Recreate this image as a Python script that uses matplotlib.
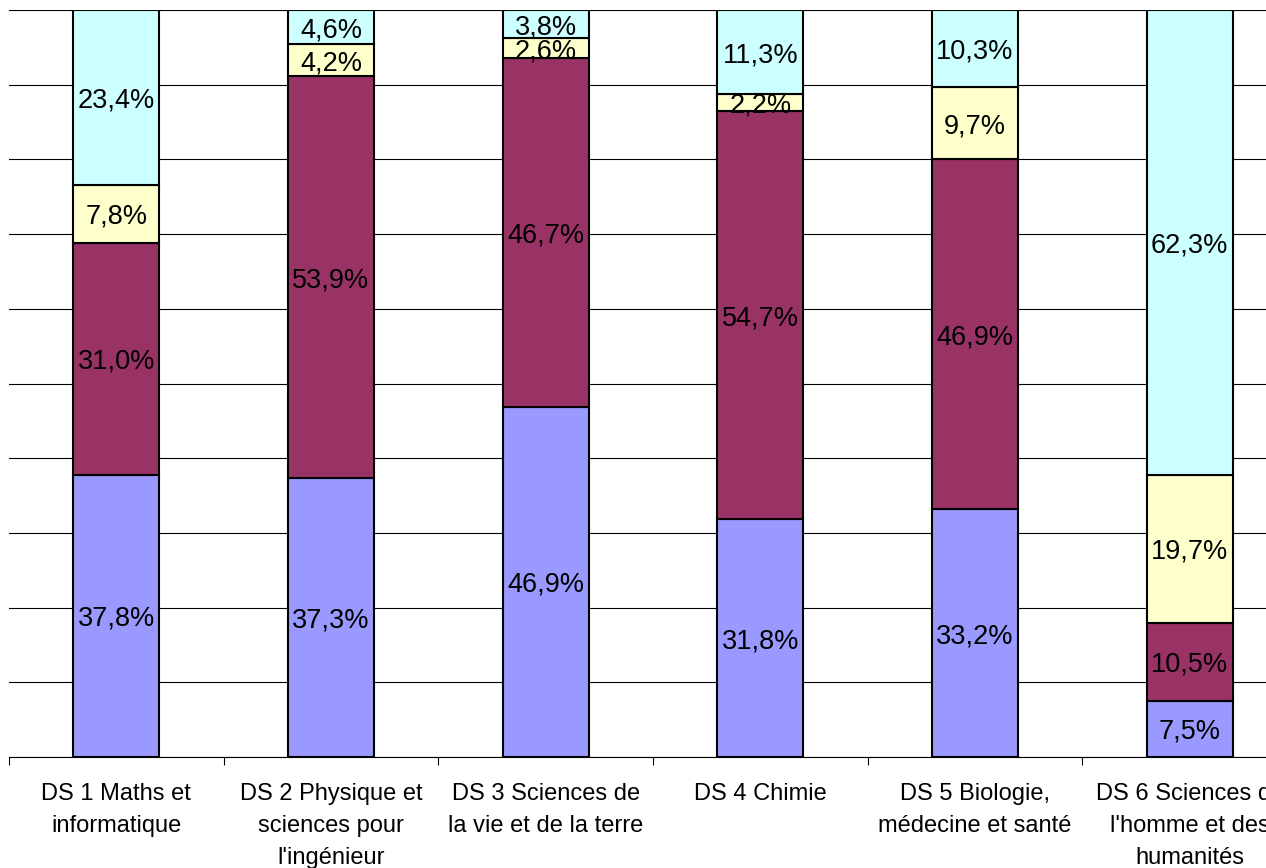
import matplotlib.pyplot as plt
import numpy as np

plt.rcParams['font.family'] = ['Liberation Sans', 'DejaVu Sans']

categories = ["DS 1 Maths et\ninformatique",
              "DS 2 Physique et\nsciences pour\nl'ingénieur",
              "DS 3 Sciences de\nla vie et de la terre",
              "DS 4 Chimie",
              "DS 5 Biologie,\nmédecine et santé",
              "DS 6 Sciences de\nl'homme et des\nhumanités"]

# four stacked series, bottom to top
serie1 = [37.8, 37.3, 46.9, 31.8, 33.2, 7.5]
serie2 = [31.0, 53.9, 46.7, 54.7, 46.9, 10.5]
serie3 = [7.8, 4.2, 2.6, 2.2, 9.7, 19.7]
serie4 = [23.4, 4.6, 3.8, 11.3, 10.3, 62.3]

colors = ['#9999FF', '#993366', '#FFFFCC', '#CCFFFF']

series = np.array([serie1, serie2, serie3, serie4])
totals = series.sum(axis=0)
shares = series / totals * 100

fig = plt.figure(figsize=(12.66, 8.68), dpi=100)
# plot area runs past the right edge, as in the original
ax = fig.add_axes([9/1266, 111/868, 1288/1266, 747/868])

x = np.arange(len(categories))
bottom = np.zeros(len(categories))
for k in range(4):
    ax.bar(x, shares[k], 0.4, bottom=bottom, color=colors[k],
           edgecolor='black', linewidth=1.5, zorder=3)
    for i in range(len(categories)):
        lab = ('%.1f%%' % series[k][i]).replace('.', ',')
        ax.text(x[i], bottom[i] + shares[k][i] / 2, lab, ha='center',
                va='center_baseline', fontsize=19.5, zorder=4)
    bottom += shares[k]

ax.set_xlim(-0.5, len(categories) - 0.5)
ax.set_ylim(0, 100)
ax.set_yticks(np.arange(0, 101, 10))
ax.yaxis.grid(True, color='black', linewidth=0.8, zorder=0)
ax.tick_params(axis='y', left=False, labelleft=False)

for s in ['top', 'right', 'left']:
    ax.spines[s].set_visible(False)
ax.spines['bottom'].set_linewidth(0.8)

ax.set_xticks(x)
ax.set_xticklabels(categories, fontsize=17, linespacing=1.57)
ax.set_xticks(np.arange(-0.5, len(categories)), minor=True)
ax.tick_params(axis='x', which='major', length=0, pad=19)
ax.tick_params(axis='x', which='minor', length=6, width=0.8, direction='out')

fig.savefig('out.png', dpi=100)
